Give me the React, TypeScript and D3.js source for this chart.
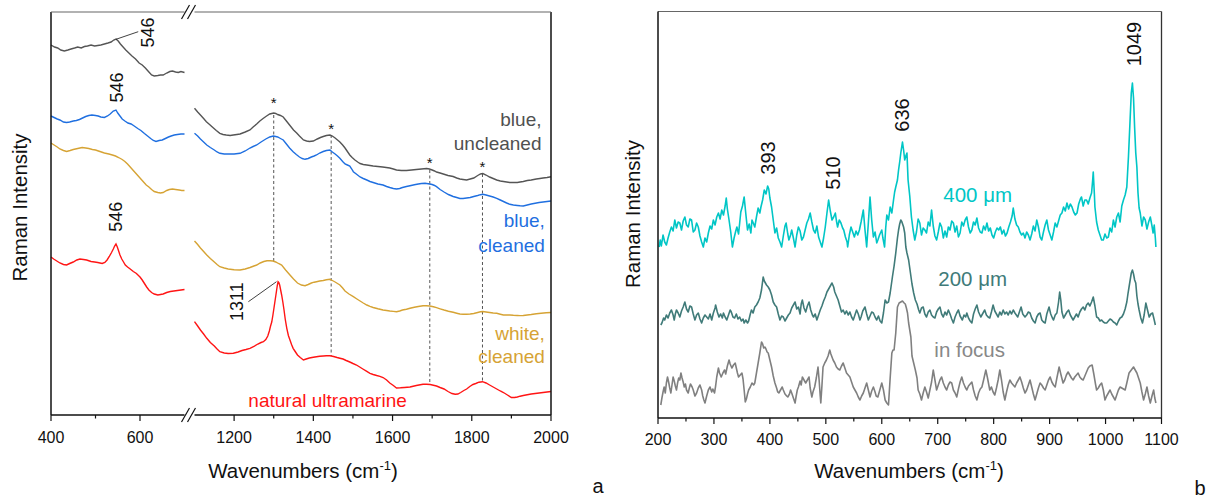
import React from 'react'
import * as d3 from 'd3'

type Pt = [number, number]

// ---- panel a: wavenumber (cm-1), intensity (a.u.) ----
const grayLeft: Pt[] = [[400,370],[408,368],[415,367],[422,365],[430,364],[438,365],[445,366],[453,367],[460,368],[468,367],[475,368.5],[482,369],[490,370],[498,369],[505,369.5],[512,370],[520,371],[528,372],[535,373],[541,375],[546,376],[551,374],[556,371],[562,368],[568,365],[575,362],[582,359],[590,356],[598,352],[605,350],[612,347],[620,343],[626,340],[632,339],[640,339.5],[646,340],[652,340],[660,342],[667,343.5],[673,344],[680,343],[686,342.5],[692,343.5],[700,342.5]]
const blueLeft: Pt[] = [[400,299],[407,297.5],[414,296],[420,295],[428,293],[435,292.5],[442,293],[450,294],[457,294.5],[464,295.5],[471,297],[478,298.5],[485,299.5],[492,300],[500,299.5],[506,299],[512,298],[520,297.5],[527,299],[533,301],[540,304],[546,305],[550,302],[555,299],[560,296],[566,294],[573,292],[580,291],[587,289],[595,286.5],[602,284.5],[610,281.5],[617,279],[624,276.5],[630,274.5],[636,273.5],[643,274.5],[650,275],[657,276.5],[664,278],[670,279],[677,280],[684,280.5],[692,281],[700,281]]
const whiteLeft: Pt[] = [[400,272],[407,270],[414,268],[420,266],[428,264.5],[435,263.5],[443,264.5],[450,265.5],[460,266.5],[470,267.5],[478,267],[485,266.5],[493,265.5],[500,265],[510,263.5],[520,262],[530,261],[538,260],[545,259],[552,257.5],[560,255.5],[566,253.5],[572,251],[580,247],[587,243.5],[594,240],[600,237],[607,233.5],[614,230],[620,228],[626,225.5],[632,223.5],[640,222.5],[646,222],[652,222.5],[660,224.5],[666,225.5],[673,226],[680,225.5],[688,225],[694,224.5],[700,224.5]]
const naturalLeft: Pt[] = [[400,158],[406,156],[413,154],[420,152],[428,150.5],[435,150],[442,151.5],[450,153],[458,155],[465,156],[473,155.5],[480,155],[490,153.5],[498,153],[505,152.5],[515,151.5],[521,152.5],[526,155],[531,158.5],[536,162.5],[540,166],[543,169],[546,171],[549,168],[552,164],[555,160],[559,156],[563,153],[567,150],[572,148],[578,146],[585,143.5],[592,141.5],[600,138],[605,135],[610,131.5],[615,128],[620,125],[626,122.5],[632,121],[640,120],[646,120.5],[652,121],[660,122.5],[668,123.5],[676,124],[684,124.5],[692,125],[700,125.5]]

const grayRight: Pt[] = [[1100,306.7],[1108,303],[1115,300],[1123,296.5],[1130,293.3],[1138,290.5],[1145,288],[1155,284.5],[1164,281.7],[1172,280.5],[1180,280],[1190,279.5],[1198,280],[1207,280.5],[1215,281],[1228,283],[1240,285],[1248,288],[1257,291],[1265,294],[1274,296.7],[1282,299],[1290,301],[1300,302],[1305,301.5],[1310,300.5],[1317,299.5],[1324,298],[1332,294],[1340,290],[1350,285],[1358,282],[1365,279],[1375,275],[1383,274],[1390,273.5],[1400,274],[1410,276],[1418,277.5],[1425,278.5],[1433,279.5],[1442,280],[1448,279],[1455,277],[1461,275],[1467,273],[1474,270],[1480,267],[1486,263.5],[1492,260],[1498,257.5],[1505,255],[1512,253],[1518,251.5],[1526,250.5],[1535,250],[1543,249.5],[1551,249],[1563,248.5],[1575,248],[1584,247.5],[1593,247],[1602,246],[1610,245],[1622,244.5],[1635,244.5],[1648,245],[1660,245.5],[1673,246],[1686,246.5],[1693,246],[1700,245],[1706,244],[1711,243],[1720,242],[1728,241],[1740,239.5],[1753,238.5],[1762,237],[1770,236],[1778,235.5],[1787,235],[1796,236],[1805,237],[1815,239.5],[1822,241],[1828,241.5],[1836,240],[1845,238],[1854,236.5],[1863,235],[1872,234],[1880,233.5],[1888,233],[1896,232.5],[1905,232.5],[1915,232.5],[1922,233],[1930,233.5],[1940,234.5],[1950,235],[1963,236],[1972,236.5],[1980,237],[1990,237.5],[2000,238.3]]
const blueRight: Pt[] = [[1100,281.7],[1108,279],[1115,276],[1123,273],[1131,270],[1140,267.5],[1150,265],[1157,263],[1164,261.7],[1175,261],[1185,261],[1200,261],[1215,261.7],[1228,264],[1240,267],[1248,268.5],[1257,270],[1268,273],[1280,276],[1290,278],[1299,279],[1305,278.5],[1310,278],[1317,276.5],[1324,275],[1332,271],[1340,267],[1349,263.3],[1357,260.5],[1365,258],[1372,256.5],[1379,255.7],[1387,256.5],[1395,258],[1402,259],[1408,260],[1416,262],[1425,263.5],[1433,264.5],[1442,265],[1448,263],[1455,261],[1461,259],[1467,256.7],[1474,253.5],[1480,251],[1486,250],[1492,249],[1497,246],[1501,243.3],[1510,240.5],[1518,238],[1526,236.5],[1535,235],[1543,233.5],[1551,232.5],[1563,231],[1576,230],[1585,228.5],[1593,227.5],[1602,226.5],[1610,226],[1618,226.5],[1625,227.5],[1635,228.5],[1644,229.3],[1655,230.3],[1665,231],[1673,231.5],[1682,231.7],[1690,231.3],[1700,230.5],[1706,229.5],[1711,228.3],[1720,225.5],[1730,223],[1741,220.5],[1753,218.5],[1762,217.5],[1770,216.5],[1778,216.5],[1787,217],[1796,217.5],[1805,218.5],[1815,219.5],[1822,220.3],[1828,220.7],[1836,220],[1845,219],[1854,218],[1863,216.7],[1872,215],[1880,213.5],[1888,212],[1896,210.7],[1905,210],[1915,209.5],[1922,209.2],[1930,209],[1940,210],[1950,211],[1960,211.8],[1970,212.5],[1985,213.3],[2000,214]]
const whiteRight: Pt[] = [[1100,174],[1108,170.5],[1115,167],[1123,163.5],[1131,160],[1140,156.5],[1150,153],[1157,150.5],[1164,148.3],[1175,147],[1185,146],[1200,145.3],[1215,145],[1228,146],[1240,147.5],[1250,149],[1257,150],[1266,152],[1275,153.5],[1283,154.2],[1291,154.3],[1298,154],[1305,153],[1312,151.5],[1320,150],[1330,145],[1341,140],[1350,136],[1360,132],[1370,130],[1379,129.3],[1387,130.5],[1395,132],[1402,132.8],[1408,133.3],[1416,134],[1425,134.5],[1433,135.2],[1442,135.7],[1448,134.5],[1455,133],[1461,131.5],[1467,130],[1474,127],[1480,124],[1490,121],[1501,118.3],[1510,116],[1518,114],[1526,112],[1535,110],[1543,108.7],[1551,107.5],[1563,106.2],[1576,105],[1585,104.5],[1593,104],[1602,103.6],[1610,103.3],[1618,104],[1625,105],[1635,105.8],[1644,106.7],[1655,107.7],[1665,108.5],[1677,109.3],[1685,109.3],[1694,109],[1703,108.2],[1711,107.3],[1720,106.2],[1730,105],[1741,103.8],[1753,102.7],[1762,101.8],[1770,101],[1778,100.8],[1787,100.7],[1796,101],[1805,101.5],[1815,102.5],[1822,103.2],[1828,103.5],[1836,103],[1845,102.5],[1854,102],[1863,101.7],[1872,100.8],[1880,100],[1888,100],[1896,100],[1905,99.7],[1915,99.5],[1922,99.4],[1930,99.5],[1940,100],[1950,100.5],[1963,101.3],[1975,101.8],[1988,102.2],[2000,102.5]]
const naturalRight: Pt[] = [[1100,93.3],[1108,89],[1115,85],[1123,81],[1131,76.7],[1140,72.5],[1150,69],[1157,66],[1164,63.3],[1175,62],[1185,61.5],[1198,61.7],[1210,63],[1220,64.5],[1230,65.5],[1240,66.7],[1250,68.5],[1260,71],[1268,72.5],[1274,73.3],[1280,75.5],[1285,79],[1289,84],[1292,89],[1295,93],[1298,100],[1301,108],[1304,116],[1307,124],[1309,129.5],[1311,133.3],[1313,132.5],[1315,130],[1317,126],[1320,120],[1323,113],[1326,105],[1329,96],[1333,86.7],[1337,79.5],[1341,75],[1345,70.5],[1349,66.7],[1355,63],[1360,60],[1367,57.5],[1375,55],[1382,56],[1390,57],[1400,57.8],[1408,58.3],[1416,58.7],[1425,59],[1433,59.2],[1442,59.3],[1451,58.5],[1460,57.5],[1467,56.8],[1475,56],[1483,54.5],[1492,53],[1500,51.5],[1509,50],[1517,48],[1525,46],[1534,43.8],[1543,41.7],[1551,40.5],[1560,39.5],[1568,38.7],[1576,37.5],[1585,35],[1593,32],[1602,29.5],[1610,27],[1620,27.2],[1630,27.5],[1644,28],[1652,28.8],[1660,29.5],[1670,30.2],[1677,30.7],[1686,30.7],[1695,30.5],[1703,29.8],[1711,29],[1720,27.5],[1730,26],[1740,23.5],[1750,21.5],[1758,20.8],[1765,21],[1772,22.5],[1780,24.5],[1787,26],[1795,28.5],[1803,30.5],[1810,31.5],[1818,32.8],[1827,33.3],[1836,32],[1845,30],[1854,28],[1863,26],[1872,24],[1880,22.5],[1890,20],[1900,17.5],[1908,17.5],[1915,18],[1922,18.8],[1930,19.5],[1940,20.3],[1950,21],[1960,21.5],[1970,22],[1985,22.8],[2000,23.5]]

// dashed guide lines: [wavenumber, top intensity, bottom intensity]
const guideLines: [number, number, number][] = [[1300, 300, 153], [1445, 280, 59], [1694, 245, 30], [1827, 241, 33]]
const starMarks: Pt[] = [[1300, 314], [1445, 288], [1694, 254], [1827, 250]]

const lowTicks = [400, 500, 600]
const lowLabels = [400, 600]
const highTicks = [1200, 1300, 1400, 1500, 1600, 1700, 1800, 1900, 2000]
const highLabels = [1200, 1400, 1600, 1800, 2000]

// ---- panel b ----
const cyan400: Pt[] = [[202,171],[204,178],[206,172],[209,183],[212,176],[215,173],[218,180],[221,186],[224,191],[227,187],[230,198],[233,190],[236,196],[239,195],[242,188],[245,197],[248,201],[251,193],[254,191],[257,199],[260,198],[263,186],[266,188],[269,195],[272,191],[275,182],[278,176],[281,171],[284,180],[287,176],[290,185],[293,192],[296,189],[299,198],[302,193],[305,201],[308,205],[311,199],[314,208],[317,203],[320,212],[322,220],[324,209],[327,198],[330,186],[333,171],[336,180],[339,187],[341,191],[344,184],[346,195],[348,206],[351,212],[354,221],[357,204],[360,188],[363,194],[366,185],[368,198],[371,194],[373,191],[376,201],[379,210],[382,205],[384,211],[387,218],[390,228],[393,224],[396,232],[398,229],[400,220],[403,211],[406,198],[409,185],[412,190],[415,180],[418,176],[421,171],[424,182],[427,192],[429,195],[432,184],[434,178],[437,183],[439,188],[442,180],[445,171],[448,183],[451,191],[454,187],[457,178],[460,181],[463,188],[466,195],[469,199],[472,205],[475,196],[478,188],[481,185],[484,192],[487,181],[490,176],[493,171],[496,180],[499,191],[502,205],[505,218],[508,207],[511,198],[514,201],[517,205],[519,197],[521,191],[524,198],[527,195],[530,190],[532,188],[535,181],[538,176],[539,171],[542,183],[545,191],[548,186],[551,181],[554,187],[557,183],[560,188],[563,196],[567,208],[570,188],[573,171],[576,195],[579,221],[582,198],[585,181],[588,186],[591,175],[593,178],[596,183],[600,188],[602,180],[605,171],[607,190],[609,203],[612,198],[615,211],[618,205],[621,218],[623,226],[625,231],[628,238],[630,248],[632,256],[634,265],[637,276],[639,268],[641,258],[643,262],[645,265],[647,238],[650,222],[653,201],[656,188],[659,178],[662,186],[665,199],[668,195],[671,183],[674,190],[677,188],[680,185],[683,196],[686,192],[689,208],[692,192],[695,182],[698,178],[701,186],[704,195],[707,191],[710,180],[713,187],[716,181],[719,191],[722,188],[725,197],[728,195],[731,186],[734,192],[737,181],[740,185],[743,196],[746,192],[749,198],[752,201],[755,191],[758,185],[761,188],[764,196],[767,193],[770,200],[773,190],[776,186],[779,185],[782,192],[785,188],[788,195],[791,187],[794,190],[797,183],[800,180],[803,186],[806,190],[809,188],[812,191],[815,184],[818,188],[821,182],[824,185],[827,191],[830,196],[833,202],[835,210],[838,199],[841,193],[844,191],[847,186],[850,183],[853,185],[856,180],[859,186],[862,183],[865,178],[868,184],[871,192],[874,187],[877,198],[880,191],[883,181],[886,178],[889,186],[892,193],[895,198],[898,188],[901,183],[904,178],[907,186],[910,195],[913,191],[916,197],[919,203],[922,205],[925,211],[928,207],[931,215],[934,209],[937,214],[940,211],[943,206],[946,203],[949,205],[952,214],[955,219],[957,221],[960,212],[963,218],[966,218],[969,214],[972,220],[975,225],[977,238],[978,246],[980,224],[981,211],[984,196],[987,188],[990,183],[993,178],[996,178],[999,184],[1002,180],[1005,181],[1008,190],[1011,186],[1014,198],[1017,191],[1020,201],[1023,205],[1026,196],[1029,212],[1032,218],[1035,223],[1038,231],[1041,262],[1044,300],[1046,325],[1048,335],[1050,320],[1052,290],[1054,265],[1056,251],[1058,225],[1060,210],[1062,205],[1065,192],[1068,201],[1071,198],[1074,189],[1077,196],[1080,201],[1083,192],[1085,185],[1087,193],[1089,180],[1090,171]]
const teal200: Pt[] = [[205,93],[207,95],[210,100],[212,98],[215,103],[218,100],[221,105],[224,108],[227,103],[229,98],[231,104],[233,108],[236,105],[239,101],[242,107],[245,111],[248,116],[251,109],[254,106],[257,112],[260,111],[263,104],[266,98],[269,103],[272,105],[275,99],[278,95],[281,100],[284,103],[287,101],[290,99],[293,104],[296,98],[299,105],[302,110],[303,113],[306,106],[309,101],[312,104],[315,100],[317,105],[320,101],[323,98],[326,103],[329,108],[331,106],[334,101],[337,100],[340,104],[343,99],[346,101],[349,97],[352,99],[354,95],[357,98],[360,95],[362,97],[365,104],[367,108],[370,105],[373,111],[376,113],[379,116],[382,120],[385,128],[388,141],[390,137],[392,135],[394,133],[397,131],[400,128],[403,123],[406,116],[409,113],[412,111],[415,104],[418,98],[421,102],[424,101],[427,97],[430,100],[433,103],[436,105],[439,110],[442,113],[445,116],[448,109],[451,111],[454,104],[456,114],[458,118],[461,110],[464,106],[467,112],[470,116],[473,108],[476,103],[478,101],[481,104],[484,98],[487,103],[490,108],[493,112],[496,117],[499,121],[502,126],[506,130],[508,132],[511,135],[514,131],[516,126],[519,122],[522,118],[525,112],[528,106],[531,108],[534,104],[537,107],[540,103],[543,106],[546,101],[549,98],[552,103],[555,108],[558,104],[561,98],[563,101],[566,107],[570,111],[573,104],[576,98],[579,102],[582,106],[585,105],[588,101],[591,98],[594,102],[597,97],[600,95],[603,105],[606,118],[609,115],[612,116],[615,125],[619,141],[622,152],[625,165],[628,180],[630,188],[632,194],[634,198],[636,196],[639,191],[641,185],[643,171],[645,165],[648,158],[651,146],[654,134],[657,125],[660,118],[663,114],[666,108],[668,105],[671,110],[674,111],[677,104],[680,101],[683,106],[686,108],[689,103],[692,101],[695,100],[698,106],[701,109],[704,111],[707,104],[710,101],[713,106],[716,103],[719,108],[722,104],[725,99],[728,95],[731,101],[734,105],[737,108],[740,102],[744,98],[747,103],[750,101],[752,105],[755,100],[758,97],[761,95],[764,104],[767,109],[770,113],[773,106],[777,101],[780,104],[784,108],[787,103],[790,101],[793,100],[796,106],[799,113],[802,107],[805,104],[808,101],[811,106],[814,103],[817,108],[820,104],[823,106],[826,103],[829,107],[832,104],[835,108],[838,105],[843,101],[846,106],[849,111],[852,104],[856,101],[859,103],[862,106],[865,105],[868,100],[871,97],[874,95],[877,101],[880,104],[883,105],[886,98],[889,96],[892,95],[895,104],[899,111],[902,104],[905,100],[907,98],[910,103],[913,105],[916,116],[918,126],[920,118],[922,106],[925,100],[928,103],[931,106],[934,108],[937,103],[940,100],[942,98],[945,101],[948,104],[951,101],[954,106],[957,109],[960,111],[963,108],[966,113],[969,115],[972,112],[975,116],[978,121],[981,112],[984,101],[987,100],[990,97],[993,98],[996,96],[999,95],[1002,95],[1005,97],[1008,99],[1011,98],[1014,96],[1017,95],[1020,93],[1023,97],[1026,100],[1029,101],[1032,104],[1035,109],[1038,116],[1040,124],[1042,131],[1044,138],[1046,145],[1048,148],[1050,144],[1052,138],[1054,135],[1056,122],[1058,114],[1060,108],[1063,100],[1066,95],[1069,103],[1072,115],[1075,108],[1078,101],[1081,104],[1084,105],[1087,98],[1089,93]]
const grayFocus: Pt[] = [[205,13],[207,20],[209,26],[211,31],[213,25],[215,35],[217,41],[219,36],[221,30],[223,25],[225,33],[227,41],[229,37],[231,32],[233,28],[235,35],[237,40],[239,38],[241,45],[243,40],[245,36],[247,31],[249,34],[251,28],[254,25],[256,30],[258,34],[261,31],[263,28],[266,22],[269,25],[272,30],[275,33],[278,28],[280,22],[282,18],[284,15],[287,22],[290,28],[293,31],[296,26],[298,29],[301,25],[303,32],[305,41],[308,50],[310,45],[313,41],[316,45],[319,48],[321,44],[324,52],[327,58],[329,54],[332,50],[335,53],[338,55],[340,50],[342,45],[344,41],[347,43],[350,45],[352,39],[354,28],[356,16],[358,19],[360,24],[362,28],[365,31],[368,35],[371,33],[373,35],[376,45],[379,55],[382,65],[385,76],[387,74],[389,70],[391,71],[393,69],[395,66],[397,65],[400,58],[403,51],[406,42],[409,35],[412,30],[414,26],[416,25],[419,28],[422,31],[424,28],[427,24],[430,22],[432,21],[435,24],[437,28],[439,25],[442,20],[445,15],[447,22],[449,28],[451,31],[454,37],[456,33],[458,41],[461,38],[464,35],[467,38],[470,41],[472,30],[475,21],[477,26],[480,31],[483,40],[486,51],[488,38],[490,22],[491,15],[493,32],[495,51],[498,55],[501,58],[504,62],[507,68],[509,64],[511,61],[513,58],[516,55],[519,51],[522,49],[525,48],[528,52],[531,55],[534,50],[537,45],[540,43],[543,41],[546,36],[549,31],[552,28],[555,25],[558,21],[561,18],[564,22],[567,25],[570,30],[573,35],[576,28],[579,21],[582,27],[585,31],[588,26],[590,22],[593,21],[596,27],[600,35],[603,28],[606,18],[609,15],[612,13],[615,40],[618,65],[620,68],[622,68],[625,85],[628,111],[631,115],[634,116],[637,117],[640,115],[642,114],[644,110],[646,105],[648,95],[650,88],[652,81],[654,62],[657,55],[660,48],[663,40],[665,28],[668,24],[671,18],[674,25],[677,31],[680,26],[683,20],[686,28],[689,36],[692,48],[695,38],[698,28],[701,33],[704,38],[707,41],[710,35],[713,31],[716,28],[719,33],[722,36],[725,35],[728,28],[731,25],[734,21],[737,29],[740,36],[743,41],[746,35],[749,31],[752,28],[755,32],[758,34],[761,36],[764,28],[767,22],[770,18],[773,25],[776,29],[779,31],[782,38],[786,48],[789,40],[793,28],[796,31],[799,26],[802,23],[805,30],[808,38],[811,48],[814,38],[817,26],[820,18],[823,26],[826,33],[829,38],[832,35],[835,33],[838,31],[841,35],[844,38],[847,41],[850,36],[853,30],[856,25],[859,28],[862,33],[865,38],[868,31],[871,24],[874,18],[877,24],[880,30],[883,35],[886,33],[889,30],[892,28],[895,33],[898,38],[901,41],[904,36],[907,33],[910,31],[913,40],[917,51],[920,44],[924,35],[927,38],[930,43],[933,46],[936,43],[939,40],[942,38],[945,41],[948,43],[951,45],[954,41],[957,39],[960,38],[963,42],[966,46],[969,50],[972,52],[976,53],[979,44],[982,34],[984,28],[987,30],[990,33],[993,35],[996,28],[999,18],[1002,22],[1005,25],[1008,28],[1011,24],[1014,21],[1017,18],[1020,23],[1023,28],[1026,31],[1029,30],[1032,29],[1035,28],[1038,35],[1042,45],[1046,48],[1050,51],[1053,48],[1056,45],[1059,40],[1062,35],[1065,26],[1068,18],[1071,24],[1074,31],[1077,22],[1080,15],[1083,22],[1086,28],[1088,20],[1090,15]]

const bTicks = d3.range(200, 1101, 50)
const bLabels = d3.range(200, 1101, 100)

const FONT = '"Liberation Sans", Arial, Helvetica, sans-serif'

// scales
const xLow = d3.scaleLinear().domain([400, 700]).range([51, 184.5])
const xHigh = d3.scaleLinear().domain([1100, 2000]).range([194.5, 551])
const yA = d3.scaleLinear().domain([0, 403]).range([415, 12])
const xB = d3.scaleLinear().domain([200, 1100]).range([658, 1161.5])
const yB = d3.scaleLinear().domain([0, 406.5]).range([418, 11.5])

const lineLow = d3.line<Pt>().x(d => xLow(d[0])).y(d => yA(d[1]))
const lineHigh = d3.line<Pt>().x(d => xHigh(d[0])).y(d => yA(d[1]))
const lineB = d3.line<Pt>().x(d => xB(d[0])).y(d => yB(d[1]))

const seriesA = [
  { low: grayLeft, high: grayRight, color: '#555555' },
  { low: blueLeft, high: blueRight, color: '#1f6fe0' },
  { low: whiteLeft, high: whiteRight, color: '#d6a334' },
  { low: naturalLeft, high: naturalRight, color: '#ff1414' },
]

const seriesB = [
  { data: cyan400, color: '#00c6c6' },
  { data: teal200, color: '#407b79' },
  { data: grayFocus, color: '#808080' },
]

function RotLabel({ x, y, text, size }: { x: number, y: number, text: string, size: number }) {
  return (
    <text transform={`translate(${x},${y}) rotate(-90)`} textAnchor="middle" dominantBaseline="central"
      fontSize={size} fill="#111">{text}</text>
  )
}

function XTitle({ cx }: { cx: number }) {
  return (
    <text x={cx} y={478} textAnchor="middle" fontSize={20.5} fill="#111">
      Wavenumbers (cm<tspan fontSize={13} dy={-8}>-1</tspan><tspan dy={8}>)</tspan>
    </text>
  )
}

function PanelA() {
  const axisY = 415, topY = 12
  const breakX = (xLow(700) + xHigh(1100)) / 2
  return (
    <g>
      {/* dashed guides */}
      {guideLines.map(([w, t, b]) => (
        <line key={w} x1={xHigh(w)} x2={xHigh(w)} y1={yA(t)} y2={yA(b)} stroke="#555" strokeWidth={1} strokeDasharray="3,2.5" />
      ))}
      {seriesA.map((s, i) => (
        <g key={i} fill="none" stroke={s.color} strokeWidth={1.4}>
          <path d={lineLow(s.low) || ''} />
          <path d={lineHigh(s.high) || ''} />
        </g>
      ))}
      {starMarks.map(([w, v]) => (
        <text key={w} x={xHigh(w)} y={yA(v) + 7} textAnchor="middle" fontSize={15} fill="#111">*</text>
      ))}
      {/* frame */}
      <g stroke="#111" strokeWidth={1.5}>
        <line x1={xLow(400)} x2={xLow(400)} y1={topY} y2={axisY} />
        <line x1={xHigh(2000)} x2={xHigh(2000)} y1={topY} y2={axisY} />
        <line x1={xLow(400)} x2={xLow(700)} y1={axisY} y2={axisY} />
        <line x1={xHigh(1100)} x2={xHigh(2000)} y1={axisY} y2={axisY} />
      </g>
      <g stroke="#666" strokeWidth={1.2}>
        <line x1={xLow(400)} x2={xLow(700)} y1={topY} y2={topY} />
        <line x1={xHigh(1100)} x2={xHigh(2000)} y1={topY} y2={topY} />
      </g>
      {/* break marks */}
      {[topY, axisY].map(y => (
        <g key={y} stroke="#111" strokeWidth={1.2}>
          <line x1={breakX - 8} y1={y + 7} x2={breakX} y2={y - 7} />
          <line x1={breakX - 2} y1={y + 7} x2={breakX + 6} y2={y - 7} />
        </g>
      ))}
      {/* ticks */}
      <g stroke="#111" strokeWidth={1.2}>
        {lowTicks.map(t => <line key={t} x1={xLow(t)} x2={xLow(t)} y1={axisY} y2={axisY + (lowLabels.includes(t) ? 6 : 3.5)} />)}
        {highTicks.map(t => <line key={t} x1={xHigh(t)} x2={xHigh(t)} y1={axisY} y2={axisY + (highLabels.includes(t) ? 6 : 3.5)} />)}
      </g>
      <g fontSize={16} fill="#111" textAnchor="middle">
        {lowLabels.map(t => <text key={t} x={xLow(t)} y={443}>{t}</text>)}
        {highLabels.map(t => <text key={t} x={xHigh(t)} y={443}>{t}</text>)}
      </g>
      {/* peak annotations */}
      <line x1={xLow(546)} y1={yA(375.7)} x2={xLow(596)} y2={yA(383.3)} stroke="#111" strokeWidth={0.8} />
      <RotLabel x={xLow(618)} y={yA(382.5)} text="546" size={18} />
      <RotLabel x={xLow(549.4)} y={yA(327.5)} text="546" size={18} />
      <RotLabel x={xLow(546.7)} y={yA(198.3)} text="546" size={18} />
      <line x1={xHigh(1236)} y1={yA(113.3)} x2={xHigh(1307)} y2={yA(133.3)} stroke="#111" strokeWidth={0.8} />
      <RotLabel x={xHigh(1208)} y={yA(113.3)} text="1311" size={18} />
      {/* series labels */}
      <g fontSize={19} textAnchor="end">
        <text x={xHigh(1976)} y={yA(289.5)} fill="#505050">blue,</text>
        <text x={xHigh(1976)} y={yA(265)} fill="#505050">uncleaned</text>
        <text x={xHigh(1984.5)} y={yA(188)} fill="#1f6fe0">blue,</text>
        <text x={xHigh(1984.5)} y={yA(163.3)} fill="#1f6fe0">cleaned</text>
        <text x={xHigh(1984.5)} y={yA(75)} fill="#d6a334">white,</text>
        <text x={xHigh(1984.5)} y={yA(51.7)} fill="#d6a334">cleaned</text>
      </g>
      <text x={xHigh(1236)} y={yA(8.3)} fontSize={19} fill="#ff1414">natural ultramarine</text>
      <text transform="translate(26.5,207.5) rotate(-90)" textAnchor="middle" fontSize={20.5} fill="#111">Raman Intensity</text>
      <XTitle cx={303} />
      <text x={598} y={493} textAnchor="middle" fontSize={20} fill="#111">a</text>
    </g>
  )
}

function PanelB() {
  const [x0, x1] = xB.range()
  const [y0, y1] = yB.range()
  return (
    <g>
      {seriesB.map((s, i) => (
        <path key={i} d={lineB(s.data) || ''} fill="none" stroke={s.color} strokeWidth={1.6} strokeLinejoin="round" />
      ))}
      <line x1={x0} x2={x1} y1={y1} y2={y1} stroke="#666" strokeWidth={1.2} />
      <line x1={x1} x2={x1} y1={y1} y2={y0} stroke="#333" strokeWidth={1.3} />
      <line x1={x0} x2={x0} y1={y1} y2={y0} stroke="#111" strokeWidth={1.5} />
      <line x1={x0} x2={x1} y1={y0} y2={y0} stroke="#111" strokeWidth={1.5} />
      <g stroke="#111" strokeWidth={1.2}>
        {bTicks.map(t => <line key={t} x1={xB(t)} x2={xB(t)} y1={y0} y2={y0 + (t % 100 === 0 ? 6 : 3.5)} />)}
      </g>
      <g fontSize={16} fill="#111" textAnchor="middle">
        {bLabels.map(t => <text key={t} x={xB(t)} y={445}>{t}</text>)}
      </g>
      <RotLabel x={xB(396.6)} y={yB(260)} text="393" size={20} />
      <RotLabel x={xB(512.8)} y={yB(245)} text="510" size={20} />
      <RotLabel x={xB(635.6)} y={yB(303)} text="636" size={20} />
      <RotLabel x={xB(1051)} y={yB(374)} text="1049" size={20} />
      <g fontSize={20.5}>
        <text x={xB(710)} y={yB(216.3)} fill="#00c6c6">400 μm</text>
        <text x={xB(701)} y={yB(132)} fill="#407b79">200 μm</text>
        <text x={xB(694)} y={yB(61.3)} fill="#888">in focus</text>
      </g>
      <text transform="translate(640,214) rotate(-90)" textAnchor="middle" fontSize={20.5} fill="#111">Raman Intensity</text>
      <XTitle cx={909} />
      <text x={1200} y={495} textAnchor="middle" fontSize={20} fill="#111">b</text>
    </g>
  )
}

export default function App() {
  return (
    <svg width={1212} height={500} style={{ position: 'absolute', left: 0, top: 0, background: '#fff' }}
      fontFamily={FONT}>
      <PanelA />
      <PanelB />
    </svg>
  )
}
